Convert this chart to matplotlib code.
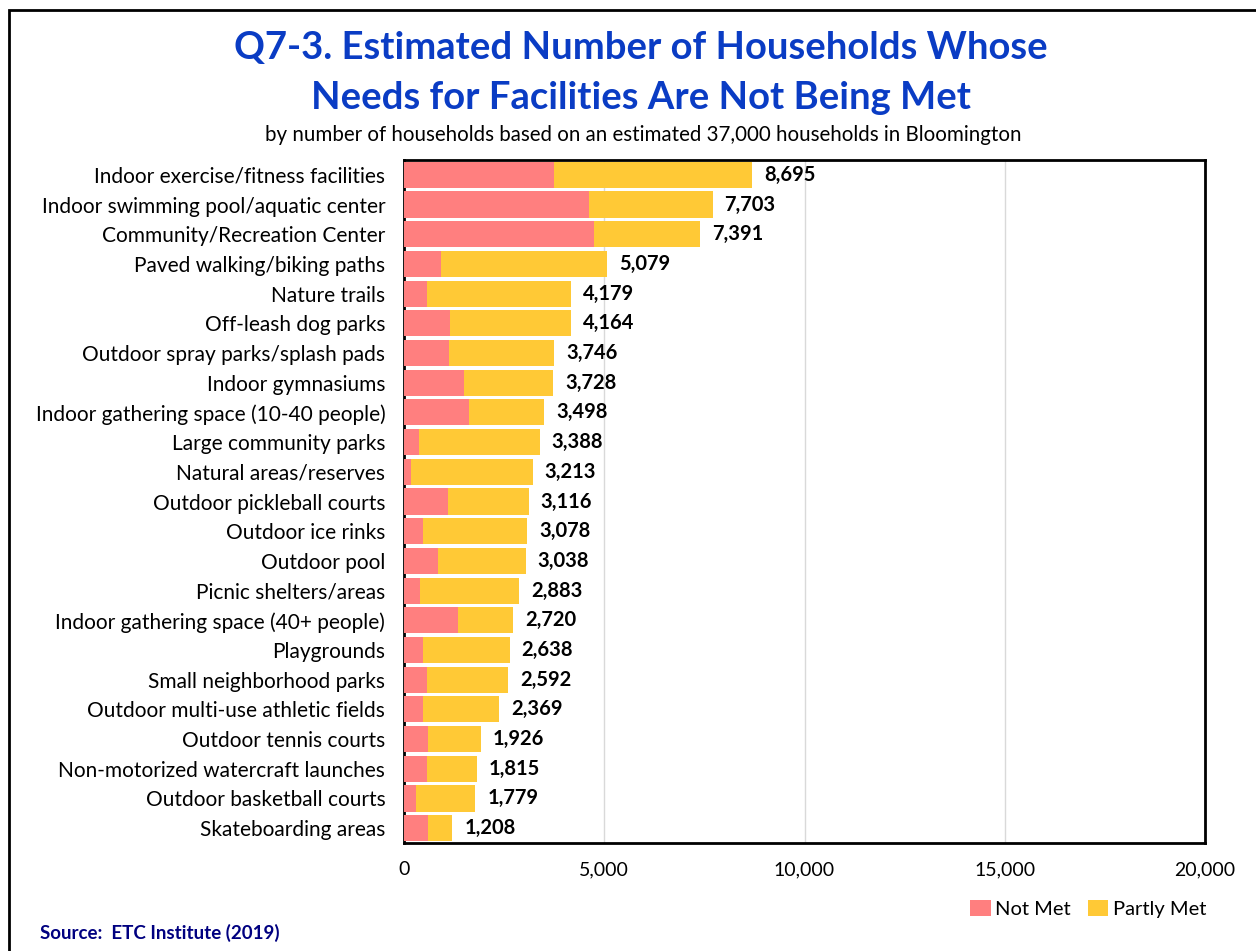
import matplotlib.pyplot as plt
from matplotlib.patches import Rectangle
import numpy as np

plt.rcParams['font.family'] = ['Lato', 'DejaVu Sans']

facilities = [
    'Indoor exercise/fitness facilities',
    'Indoor swimming pool/aquatic center',
    'Community/Recreation Center',
    'Paved walking/biking paths',
    'Nature trails',
    'Off-leash dog parks',
    'Outdoor spray parks/splash pads',
    'Indoor gymnasiums',
    'Indoor gathering space (10-40 people)',
    'Large community parks',
    'Natural areas/reserves',
    'Outdoor pickleball courts',
    'Outdoor ice rinks',
    'Outdoor pool',
    'Picnic shelters/areas',
    'Indoor gathering space (40+ people)',
    'Playgrounds',
    'Small neighborhood parks',
    'Outdoor multi-use athletic fields',
    'Outdoor tennis courts',
    'Non-motorized watercraft launches',
    'Outdoor basketball courts',
    'Skateboarding areas',
]
totals = [8695, 7703, 7391, 5079, 4179, 4164, 3746, 3728, 3498, 3388, 3213,
          3116, 3078, 3038, 2883, 2720, 2638, 2592, 2369, 1926, 1815, 1779, 1208]
not_met = [3750, 4610, 4740, 920, 570, 1140, 1120, 1490, 1620, 370, 170,
           1090, 470, 840, 390, 1340, 470, 570, 470, 590, 570, 290, 590]
partly_met = [t - n for t, n in zip(totals, not_met)]

red = '#FF7F7F'
yellow = '#FFC936'
title_blue = '#0A3CC4'

fig = plt.figure(figsize=(12.56, 9.51), dpi=100)
W, H = 1256, 951
ax = fig.add_axes([404 / W, 1 - 843 / H, (1205 - 404) / W, (843 - 160) / H])

y = np.arange(len(facilities))
ax.barh(y, not_met, height=0.88, color=red, label='Not Met', zorder=3)
ax.barh(y, partly_met, left=not_met, height=0.88, color=yellow,
        label='Partly Met', zorder=3)

for yi, t in zip(y, totals):
    ax.text(t + 300, yi, f'{t:,}', va='center', ha='left', fontsize=14.5,
            fontweight='bold', color='black')

ax.set_xlim(0, 20000)
ax.set_ylim(len(facilities) - 0.5, -0.5)
ax.set_xticks([0, 5000, 10000, 15000, 20000])
ax.set_xticklabels(['0', '5,000', '10,000', '15,000', '20,000'], fontsize=14)
ax.set_yticks(y)
ax.set_yticklabels(facilities, fontsize=15)
ax.tick_params(axis='both', length=0)
ax.tick_params(axis='x', pad=13)
ax.tick_params(axis='y', pad=13.5)
ax.grid(axis='x', color='#D9D9D9', linewidth=1, zorder=0)
for s in ax.spines.values():
    s.set_linewidth(2)
    s.set_color('black')

leg = fig.legend(loc='center right', bbox_to_anchor=(1224 / W, 1 - 909 / H),
                 ncol=2, frameon=False, fontsize=14.5, handlelength=1.0,
                 handleheight=0.85, handletextpad=0.2, columnspacing=0.9)

fig.text(641 / W, 1 - 48 / H, 'Q7-3. Estimated Number of Households Whose',
         ha='center', va='center', fontsize=27.5, fontweight='bold', color=title_blue)
fig.text(641 / W, 1 - 98 / H, 'Needs for Facilities Are Not Being Met',
         ha='center', va='center', fontsize=27.5, fontweight='bold', color=title_blue)
fig.text(643 / W, 1 - 135 / H,
         'by number of households based on an estimated 37,000 households in Bloomington',
         ha='center', va='center', fontsize=14.8, color='black')
fig.text(40 / W, 1 - 933 / H, 'Source:  ETC Institute (2019)', ha='left',
         va='center', fontsize=13.5, fontweight='bold', color='#000080')

# outer frame
fig.patches.append(Rectangle((9 / W, -0.05), 1.1, 1 - 10 / H + 0.05,
                             transform=fig.transFigure, fill=False,
                             edgecolor='black', linewidth=2))

fig.savefig('out.png', dpi=100)
